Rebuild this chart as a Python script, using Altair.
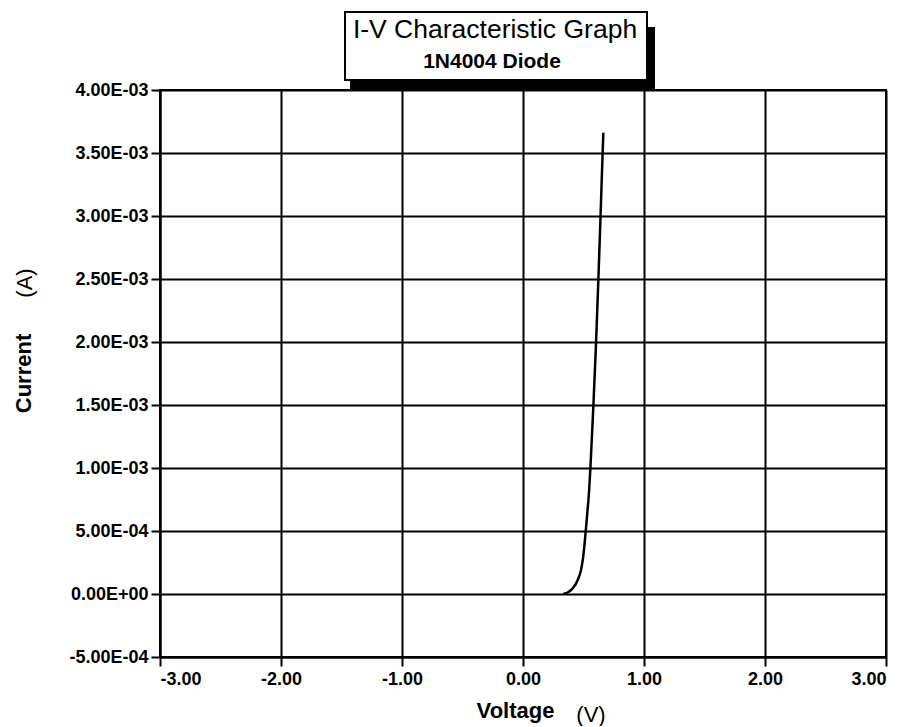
import altair as alt
import pandas as pd

# ---- data ----
voltage = [0.333, 0.375, 0.395, 0.415, 0.454, 0.480, 0.496, 0.507, 0.519, 0.533, 0.545,
           0.557, 0.582, 0.604, 0.623, 0.641, 0.658, 0.664]
current = [0.0, 0.000016, 0.00003, 0.000049, 0.000115, 0.000193, 0.000284, 0.00038, 0.000505,
           0.00066, 0.00080, 0.0010, 0.0015, 0.0020, 0.0025, 0.0030, 0.0035, 0.00366]

x_ticks = [-3, -2, -1, 0, 1, 2, 3]
x_labels = ["-3.00", "-2.00", "-1.00", "0.00", "1.00", "2.00", "3.00"]
y_ticks = [-0.0005, 0.0, 0.0005, 0.001, 0.0015, 0.002, 0.0025, 0.003, 0.0035, 0.004]
y_labels = ["-5.00E-04", "0.00E+00", "5.00E-04", "1.00E-03", "1.50E-03", "2.00E-03",
            "2.50E-03", "3.00E-03", "3.50E-03", "4.00E-03"]

title_main = "I-V Characteristic Graph"
title_sub = "1N4004 Diode"
x_title = "Voltage"
x_unit = "(V)"
y_title = "Current"
y_unit = "(A)"

df = pd.DataFrame({"V": voltage, "I": current})
one = pd.DataFrame({"k": [0]})


def make_expr(vals, labs):
    return "".join(
        f"abs(datum.value - ({v})) < 1e-9 ? '{l}' : " for v, l in zip(vals, labs)
    ) + "''"


FONT = "Liberation Sans"

line = alt.Chart(df).mark_line(color="black", strokeWidth=2.5, interpolate="monotone").encode(
    x=alt.X("V:Q",
            scale=alt.Scale(domain=[-3, 3], nice=False, zero=False),
            axis=alt.Axis(values=x_ticks, labelExpr=make_expr(x_ticks, x_labels),
                          title=x_title, titleX=355, titleY=60,
                          titleBaseline="alphabetic", titleAlign="center",
                          labelPadding=4)),
    y=alt.Y("I:Q",
            scale=alt.Scale(domain=[-0.0005, 0.004], nice=False, zero=False),
            axis=alt.Axis(values=y_ticks, labelExpr=make_expr(y_ticks, y_labels),
                          title=y_title, titleFontSize=22,
                          titleX=-137, titleY=283, titleBaseline="middle",
                          titleAlign="center", titleAngle=270)),
    order=alt.Order("V:Q"),
)

shadow = alt.Chart(one).mark_rect(color="black").encode(
    x=alt.value(190), x2=alt.value(495), y=alt.value(-63), y2=alt.value(0)
)
box = alt.Chart(one).mark_rect(fill="white", stroke="black", strokeWidth=2).encode(
    x=alt.value(185), x2=alt.value(487), y=alt.value(-78), y2=alt.value(-10)
)
t1 = alt.Chart(one).mark_text(text=title_main, font=FONT, fontSize=26.5, color="black",
                              align="center", baseline="alphabetic").encode(
    x=alt.value(335), y=alt.value(-52)
)
t2 = alt.Chart(one).mark_text(text=title_sub, font=FONT, fontSize=21, fontWeight="bold",
                              color="black", align="center", baseline="alphabetic").encode(
    x=alt.value(332), y=alt.value(-22)
)
vu = alt.Chart(one).mark_text(text=x_unit, font=FONT, fontSize=22, color="black",
                              align="center", baseline="alphabetic").encode(
    x=alt.value(431), y=alt.value(632)
)
au = alt.Chart(one).mark_text(text=y_unit, font=FONT, fontSize=22, color="black",
                              align="center", baseline="middle", angle=270).encode(
    x=alt.value(-135), y=alt.value(193)
)

chart = alt.layer(line, shadow, box, t1, t2, vu, au).properties(
    width=726, height=567,
    autosize=alt.AutoSizeParams(type="none"),
    padding={"left": 152, "top": 82, "right": 10, "bottom": 69},
    background="white",
).configure_axis(
    grid=True, gridColor="black", gridWidth=2, gridOpacity=1,
    domainColor="black", domainWidth=2,
    tickColor="black", tickWidth=2, tickSize=9,
    labelFont=FONT, labelFontSize=18, labelFontWeight="bold", labelColor="black",
    labelPadding=3,
    titleFont=FONT, titleFontSize=22, titleFontWeight="bold", titleColor="black",
).configure_view(stroke="black", strokeWidth=2)

chart.save("out.html", embed_options={"renderer": "svg", "actions": False})
